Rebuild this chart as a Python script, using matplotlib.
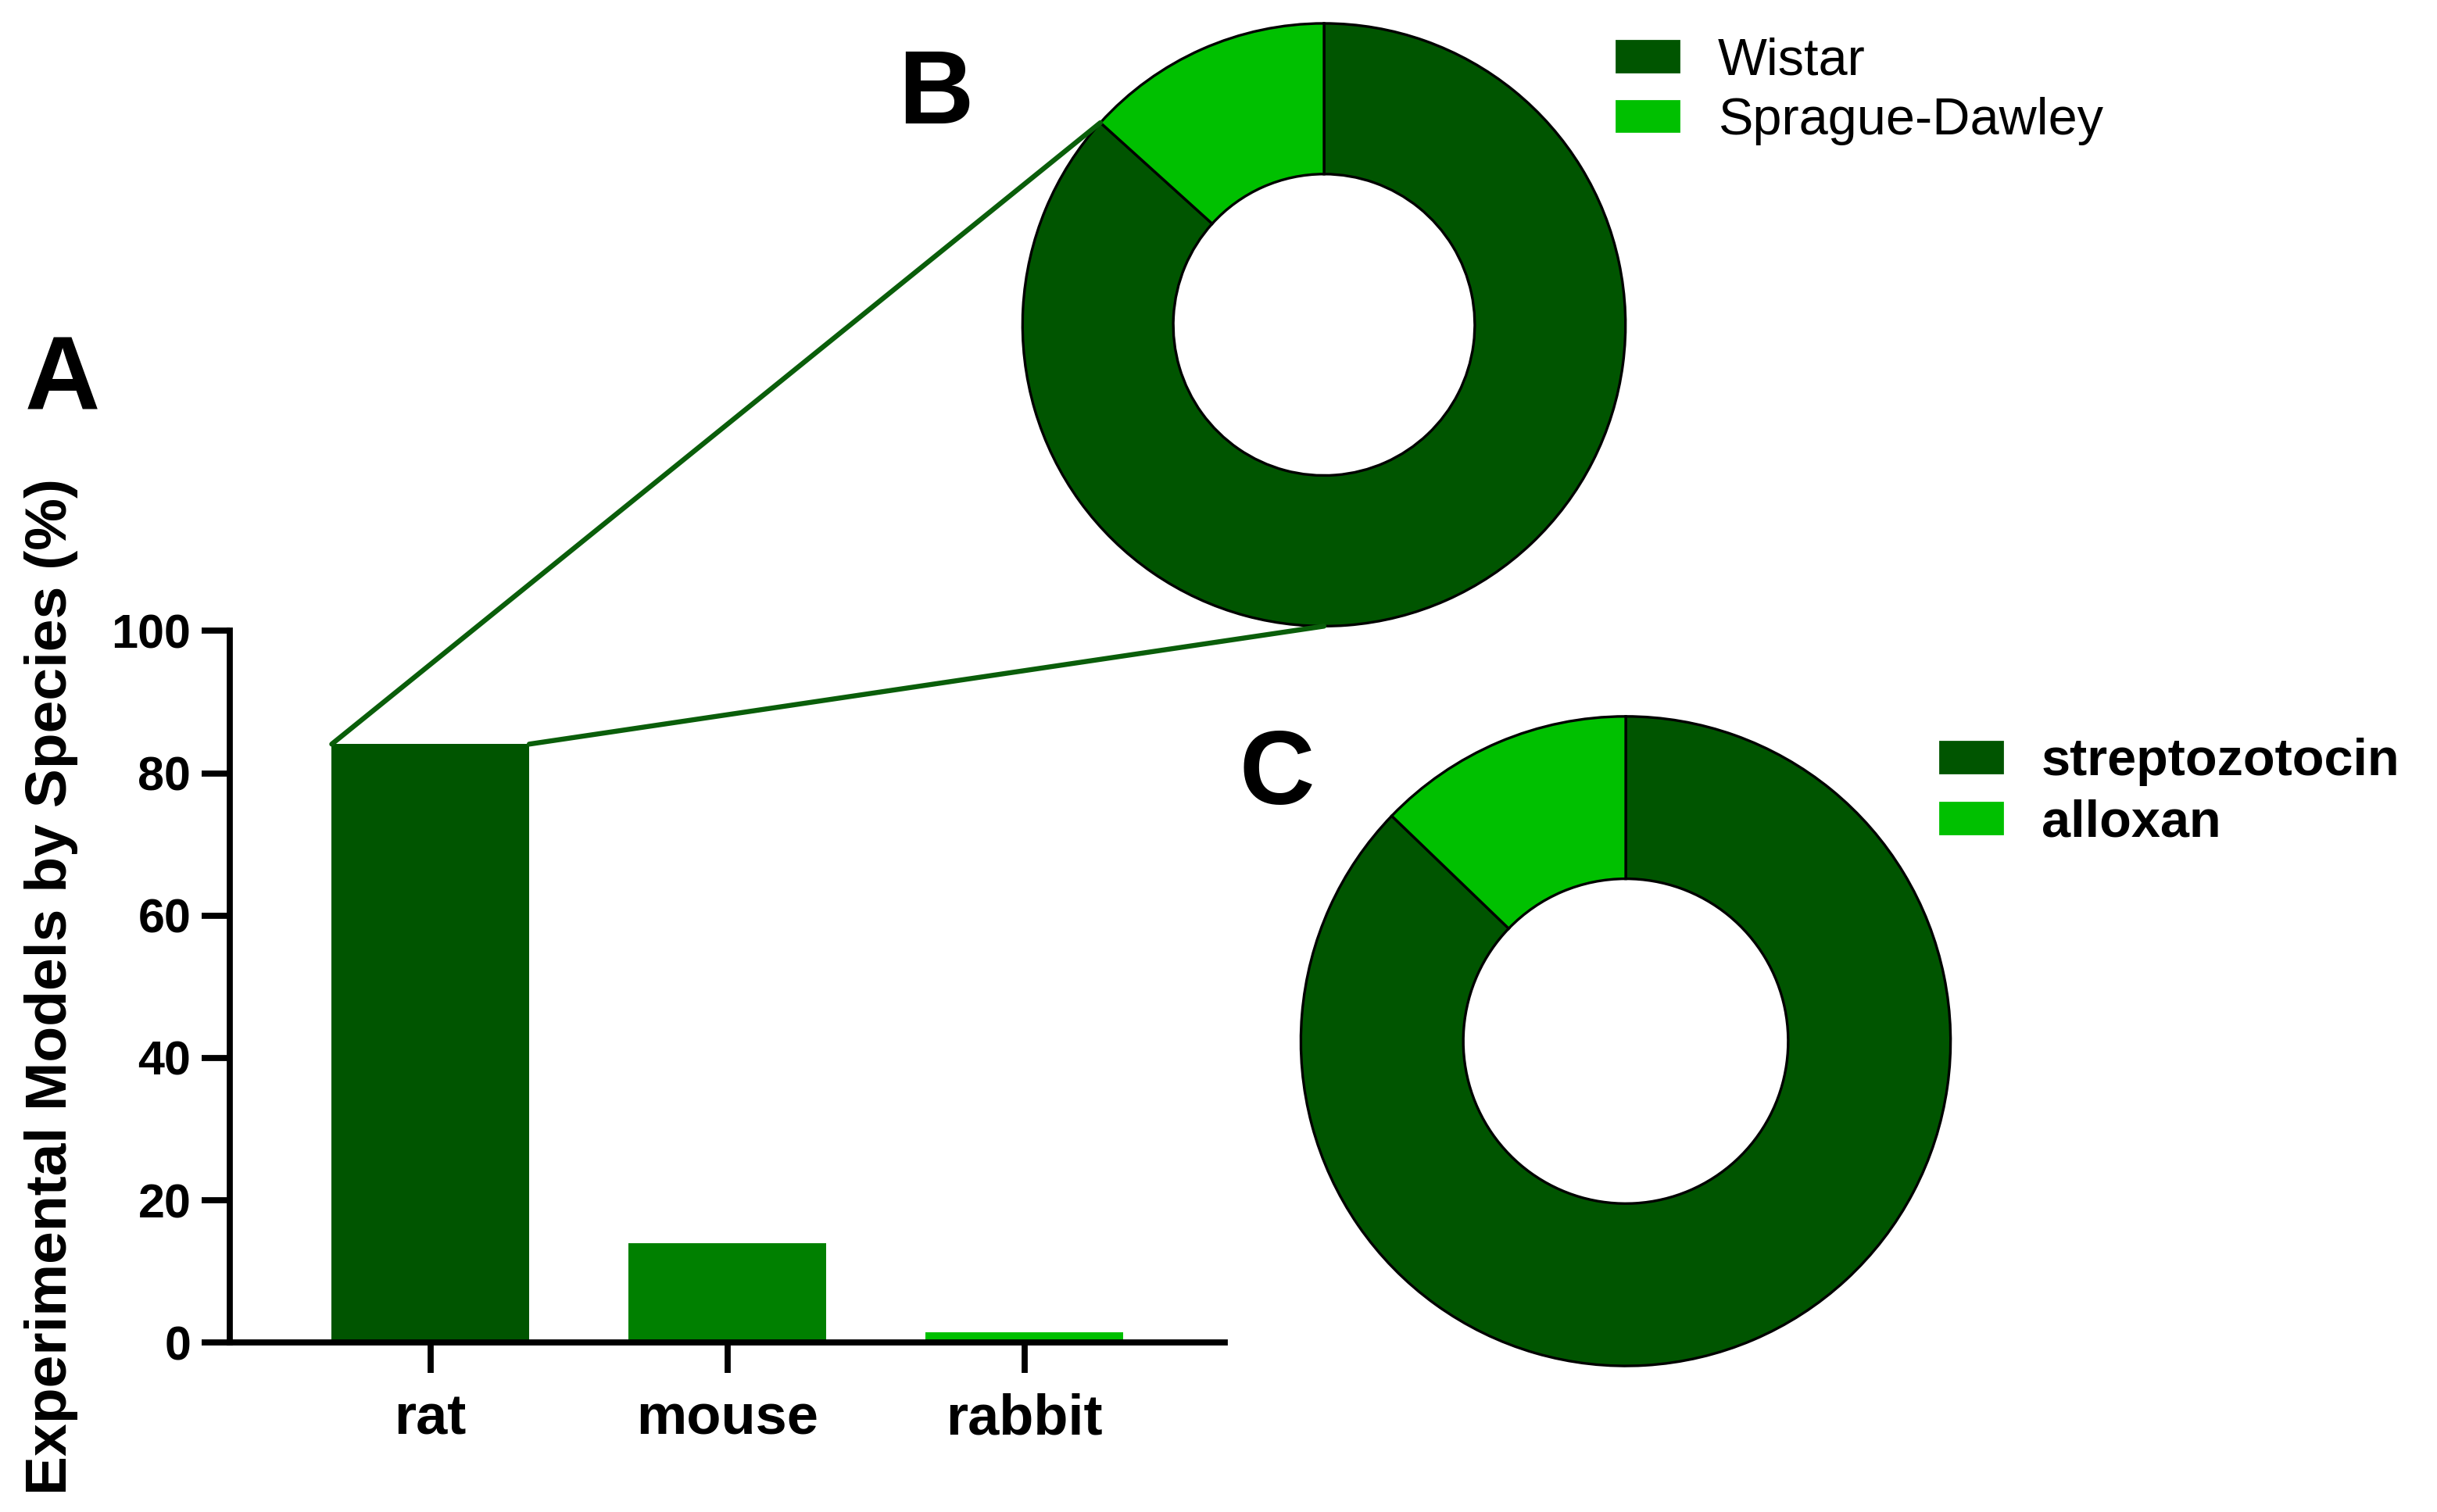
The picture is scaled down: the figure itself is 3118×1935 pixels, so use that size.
import matplotlib.pyplot as plt
from matplotlib.patches import ConnectionPatch, Patch
import numpy as np

plt.rcParams['font.family'] = ['Liberation Sans', 'DejaVu Sans']

# -------- data --------
species = ['rat', 'mouse', 'rabbit']
species_pct = [84.1, 14.0, 1.5]

strain_labels = ['Wistar', 'Sprague-Dawley']
strain_pct = [86.7, 13.3]

inducer_labels = ['streptozotocin', 'alloxan']
inducer_pct = [87.2, 12.8]

dark = '#005500'
mid = '#008000'
light = '#00c000'
bar_colors = [dark, mid, light]
pie_colors = [dark, light]
link_color = '#0a5e0a'

fig = plt.figure(figsize=(15.59, 9.675), dpi=200)

# -------- A: bar chart --------
ax = fig.add_axes([0.0944, 0.112, 0.4082, 0.4707])
x = np.arange(len(species))
bars = ax.bar(x, species_pct, width=0.665, color=bar_colors)
ax.set_xlim(-0.675, 2.675)
ax.set_ylim(0, 100)
ax.set_yticks([0, 20, 40, 60, 80, 100])
ax.set_xticks(x)
ax.set_xticklabels(species, fontsize=26, fontweight='bold')
for lab in ax.get_yticklabels():
    lab.set_fontsize(22)
    lab.set_fontweight('bold')
for s in ['top', 'right']:
    ax.spines[s].set_visible(False)
for s in ['left', 'bottom']:
    ax.spines[s].set_linewidth(2.8)
ax.tick_params(axis='y', width=2.8, length=13, pad=5)
ax.tick_params(axis='x', width=2.8, length=14, pad=9)
ax.set_ylabel('Experimental Models by Species (%)', fontsize=27, fontweight='bold')
ax.yaxis.set_label_coords(-0.153, 0.5)

# -------- B: strain donut --------
axb = fig.add_axes([0.4196, 0.5858, 0.2474, 0.3988])
axb.pie(strain_pct, colors=pie_colors, startangle=90, counterclock=False, radius=1,
        wedgeprops=dict(width=0.5, edgecolor='black', linewidth=1.2))
axb.set_xlim(-1, 1)
axb.set_ylim(-1, 1)
axb.set_aspect('equal')
axb.axis('off')
axb.legend(handles=[Patch(color=c) for c in pie_colors], labels=strain_labels,
           loc='upper left', bbox_to_anchor=(0.6633, 0.9755), bbox_transform=fig.transFigure,
           frameon=False, fontsize=24, handlelength=1.2, handleheight=0.54,
           handletextpad=0.75, labelspacing=0.22, borderpad=0, borderaxespad=0)

# -------- C: inducer donut --------
axc = fig.add_axes([0.5338, 0.0966, 0.2666, 0.4296])
axc.pie(inducer_pct, colors=pie_colors, startangle=90, counterclock=False, radius=1,
        wedgeprops=dict(width=0.5, edgecolor='black', linewidth=1.2))
axc.set_xlim(-1, 1)
axc.set_ylim(-1, 1)
axc.set_aspect('equal')
axc.axis('off')
leg = axc.legend(handles=[Patch(color=c) for c in pie_colors], labels=inducer_labels,
                 loc='upper left', bbox_to_anchor=(0.7959, 0.512), bbox_transform=fig.transFigure,
                 frameon=False, fontsize=24, handlelength=1.2, handleheight=0.54,
                 handletextpad=0.75, labelspacing=0.25, borderpad=0, borderaxespad=0)
for t in leg.get_texts():
    t.set_fontweight('bold')

# -------- links from rat bar to donut B --------
w = bars[0].get_width()
rat_top = species_pct[0]
edge_ang = np.deg2rad(90 - 360 * strain_pct[0] / 100)
con1 = ConnectionPatch(xyA=(-w / 2, rat_top), coordsA=ax.transData,
                       xyB=(np.cos(edge_ang), np.sin(edge_ang)), coordsB=axb.transData,
                       color=link_color, linewidth=2.3)
con2 = ConnectionPatch(xyA=(w / 2, rat_top), coordsA=ax.transData,
                       xyB=(0, -1), coordsB=axb.transData,
                       color=link_color, linewidth=2.3)
fig.add_artist(con1)
fig.add_artist(con2)

# -------- panel letters --------
fig.text(0.0255, 0.747, 'A', fontsize=48, fontweight='bold', ha='center', va='center')
fig.text(0.384, 0.936, 'B', fontsize=48, fontweight='bold', ha='center', va='center')
fig.text(0.524, 0.486, 'C', fontsize=48, fontweight='bold', ha='center', va='center')

fig.savefig('out.png', dpi=200)
